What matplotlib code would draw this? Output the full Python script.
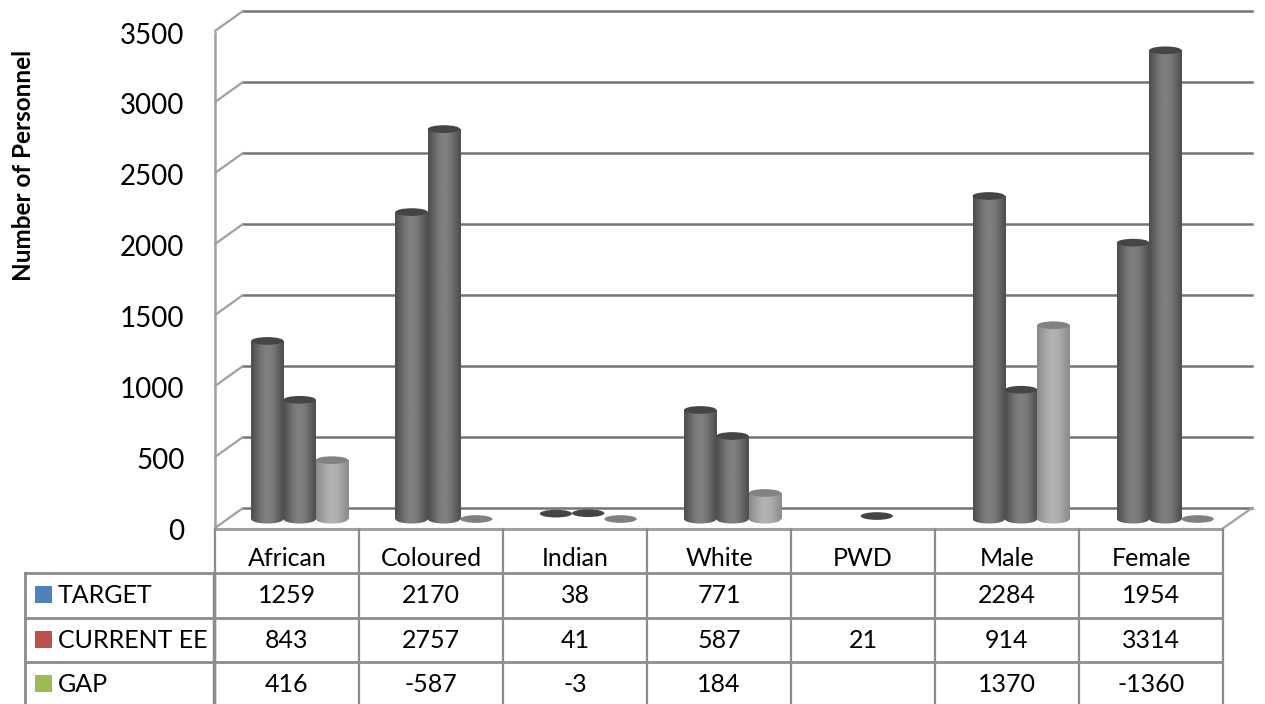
import matplotlib
matplotlib.use('Agg')
import matplotlib.pyplot as plt
import matplotlib.patches as patches
import numpy as np

plt.rcParams['font.family'] = ['Lato', 'DejaVu Sans']

# data
categories = ['African', 'Coloured', 'Indian', 'White', 'PWD', 'Male', 'Female']
series_names = ['TARGET', 'CURRENT EE', 'GAP']
target = [1259, 2170, 38, 771, None, 2284, 1954]
current_ee = [843, 2757, 41, 587, 21, 914, 3314]
gap = [416, -587, -3, 184, None, 1370, -1360]
yticks = [0, 500, 1000, 1500, 2000, 2500, 3000, 3500]

legend_colors = ['#4F81BD', '#C0504D', '#9BBB59']
bar_tones = [(0.31, 0.50), (0.31, 0.50), (0.55, 0.70)]
W, H = 1265, 704
line_dark = '#747474'
line_mid = '#a0a0a0'


def axes_px(fig, x0, y_top, x1, y_bottom):
    # axes from pixel box, y measured from the top of the picture
    return fig.add_axes([x0 / W, 1 - y_bottom / H, (x1 - x0) / W, (y_bottom - y_top) / H])


fig = plt.figure(figsize=(W / 100, H / 100), dpi=100, facecolor='white')

# back wall with the gridlines
ax_back = axes_px(fig, 243, 11, 1252, 508)
ax_back.set_ylim(0, 3500)
ax_back.set_xlim(0, 1)
ax_back.set_xticks([])
ax_back.set_yticks(yticks)
ax_back.tick_params(length=0, labelleft=False)
ax_back.grid(axis='y', color=line_dark, lw=1.8, clip_on=False)
ax_back.set_axisbelow(True)
for s in ax_back.spines.values():
    s.set_visible(False)

# front axis with tick labels
ax_front = axes_px(fig, 215, 33, 1222, 529)
ax_front.set_ylim(0, 3500)
ax_front.set_xlim(0, 7)
ax_front.patch.set_alpha(0)
ax_front.set_xticks([])
ax_front.set_yticks(yticks)
ax_front.tick_params(axis='y', length=0, labelsize=20, pad=22, labelcolor='black')
for s in ['top', 'right']:
    ax_front.spines[s].set_visible(False)
ax_front.spines['left'].set_color(line_mid)
ax_front.spines['left'].set_linewidth(1.8)
ax_front.spines['bottom'].set_color(line_mid)
ax_front.spines['bottom'].set_linewidth(2.2)

# pixel overlay: side wall lines and table
ax_px = fig.add_axes([0, 0, 1, 1])
ax_px.set_xlim(0, W)
ax_px.set_ylim(H, 0)
ax_px.axis('off')
ax_px.patch.set_alpha(0)
for v in yticks:
    yb = 508 - v * 497 / 3500
    ax_px.plot([215, 243], [yb + 20, yb], color=line_mid, lw=1.6, solid_capstyle='round')
ax_px.plot([1222, 1252], [529, 508], color=line_mid, lw=1.6)
ax_px.text(24, 165, 'Number of Personnel', rotation=90, ha='center', va='center',
           fontsize=17.5, fontweight='bold', color='black')

# table
col_x = [215 + 144 * i for i in range(8)]
row_y = [573, 618, 662, 707]
tbl = '#8c8c8c'
for x in col_x:
    ax_px.plot([x, x], [529, 707], color=tbl, lw=1.6)
ax_px.plot([214, 214], [573, 707], color=tbl, lw=2.5)
ax_px.plot([25, 25], [573, 707], color=tbl, lw=2)
for y in row_y:
    ax_px.plot([25, 1222], [y, y], color=tbl, lw=2)
for i, c in enumerate(categories):
    ax_px.text(col_x[i] + 72, 558, c, ha='center', va='center', fontsize=18, color='black')
for r, (name, vals) in enumerate(zip(series_names, [target, current_ee, gap])):
    yc = (row_y[r] + row_y[r + 1]) / 2
    ax_px.add_patch(patches.Rectangle((35, yc - 9.5), 17, 17, facecolor=legend_colors[r], edgecolor='none'))
    ax_px.text(58, yc, name, ha='left', va='center', fontsize=18, color='black')
    for i, v in enumerate(vals):
        if v is not None:
            ax_px.text(col_x[i] + 72, yc, str(v), ha='center', va='center', fontsize=18, color='black')

# cylinders, zero of this axes sits a little in front of the back wall
ax = axes_px(fig, 227.5, 24, 1237.5, 527.5)
ax.set_xlim(-0.5, 6.5)
ax.set_ylim(-60, 3500)
ax.axis('off')
ax.patch.set_alpha(0)
bar_w = 0.224
disc_h = 64  # value units, about 9 px on the picture
x = np.arange(len(categories))


def shade(low, high):
    t = np.linspace(0, 1, 48)
    return low + (high - low) * np.sin(t * np.pi) ** 1.3


for k, vals in enumerate([target, current_ee, gap]):
    low, high = bar_tones[k]
    grad = shade(low, high)[None, :]
    xs = x + (k - 1) * bar_w
    for xc, v in zip(xs, vals):
        if v is None:
            continue
        h = max(v, 0)
        extent = (xc - bar_w / 2, xc + bar_w / 2, -60, h + 50)
        if h > 50:
            rect = ax.bar(xc, h, width=bar_w, color='none', edgecolor='none')[0]
            base = patches.Ellipse((xc, 0), bar_w, disc_h, facecolor='none', edgecolor='none')
            ax.add_patch(base)
            for clip in (rect, base):
                im = ax.imshow(grad, extent=extent, cmap='gray', vmin=0, vmax=1,
                               aspect='auto', zorder=2 + k * 0.1, interpolation='bilinear')
                im.set_clip_path(clip)
        top_tone = (low - 0.04) if v > 0 else 0.5
        ax.add_patch(patches.Ellipse((xc, h), bar_w, disc_h * 0.85, facecolor=str(top_tone), edgecolor='none',
                                     zorder=2.5 + k * 0.1, clip_on=False))
ax.set_xlim(-0.5, 6.5)
ax.set_ylim(-60, 3500)

fig.savefig('out.png', dpi=100, facecolor='white')
